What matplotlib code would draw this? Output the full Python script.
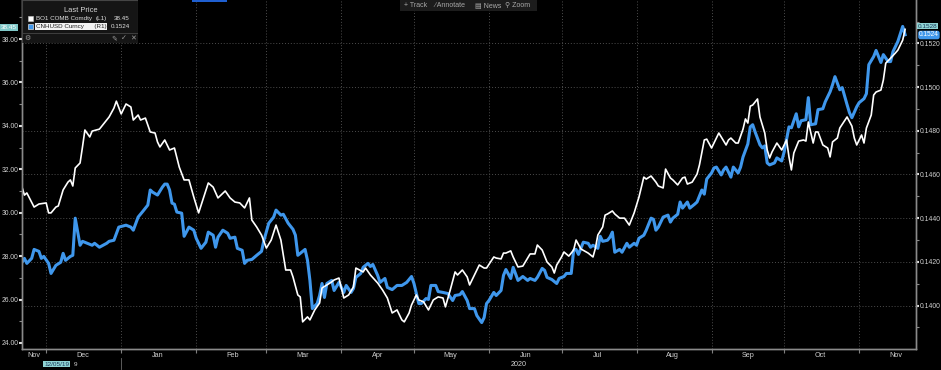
import numpy as np
import pandas as pd
import matplotlib
matplotlib.use('Agg')
import matplotlib.pyplot as plt
import matplotlib.dates as mdates
import matplotlib.transforms as mtrans
from matplotlib.ticker import MultipleLocator, FormatStrFormatter, FixedLocator, FixedFormatter, NullFormatter
from matplotlib.patches import Rectangle

plt.rcParams['font.family'] = ['Liberation Sans', 'DejaVu Sans']

start = pd.Timestamp('2019-11-21')

# BO1 COMB Comdty (left axis), days after 2019-11-21
bo_days = [0, 1, 2, 5, 7, 10, 11, 12, 14, 15,
           17, 19, 20, 21, 22, 24, 25, 26, 28, 29,
           32, 34, 36, 38, 39, 41, 43, 45, 46, 48,
           49, 51, 53, 55, 56, 57, 59, 61, 63, 65,
           67, 69, 71, 73, 75, 77, 79, 81, 84, 86,
           88, 90, 92, 94, 95, 97, 99, 101, 103, 105,
           107, 109, 111, 112, 114, 115, 116, 118, 119, 121,
           123, 124, 126, 128, 129, 131, 133, 135, 137, 138,
           141, 142, 144, 147, 149, 151, 153, 155, 157, 158,
           160, 161, 163, 164, 166, 168, 170, 172, 174, 175,
           177, 179, 180, 182, 184, 185, 187, 189, 191, 192,
           195, 196, 198, 199, 200, 202, 203, 205, 207, 209,
           210, 212, 213, 215, 217, 219, 220, 221, 223, 224,
           226, 228, 229, 231, 234, 236, 237, 238, 240, 241,
           242, 244, 245, 247, 249, 251, 253, 255, 257, 258,
           260, 262, 263, 265, 266, 268, 269, 271, 273, 274,
           275, 277, 279, 280, 282, 283, 285, 286, 288, 289,
           291, 292, 293, 295, 296, 298, 299, 300, 301, 302,
           304, 305, 307, 308, 309, 310, 312, 314, 316, 317,
           318, 319, 321, 323, 324, 325, 327, 328, 329, 331,
           333, 334, 335, 337, 338, 341, 343, 344, 345, 347,
           348, 349, 351, 352, 353, 355, 356, 357, 359, 361,
           362, 364, 365]
bo_vals = [31.18, 30.81, 30.91, 30.26, 30.40, 30.45, 29.99, 29.99, 30.26, 30.31,
           31.05, 31.41, 31.51, 31.23, 32.06, 32.29, 33.03, 33.81, 33.49, 33.76,
           33.85, 34.13, 34.41, 34.82, 35.14, 34.55, 35.01, 34.87, 34.27, 34.50,
           34.27, 34.36, 33.72, 33.67, 33.26, 33.03, 33.35, 32.89, 32.98, 32.10,
           31.51, 31.51, 30.72, 29.99, 30.68, 31.37, 31.18, 30.68, 31.00, 30.68,
           30.49, 30.45, 30.22, 30.68, 29.66, 29.34, 28.97, 28.37, 28.74, 29.43,
           28.74, 27.36, 27.36, 27.04, 26.21, 26.12, 24.97, 25.20, 25.06, 25.52,
           25.84, 26.53, 26.67, 26.81, 26.90, 26.99, 26.07, 26.21, 26.58, 27.45,
           27.27, 27.45, 27.13, 26.76, 26.44, 26.07, 25.38, 25.52, 25.06, 24.97,
           25.38, 25.75, 26.21, 25.98, 25.89, 25.52, 25.98, 26.12, 26.07, 25.66,
           26.44, 27.27, 27.13, 27.36, 27.04, 26.67, 27.13, 27.59, 27.45, 27.45,
           27.96, 27.91, 27.87, 28.14, 28.14, 28.24, 27.96, 27.50, 27.54, 27.91,
           28.10, 28.10, 28.51, 28.28, 27.73, 27.50, 27.22, 27.59, 27.96, 28.19,
           28.00, 28.28, 28.74, 28.33, 28.14, 27.96, 28.37, 28.97, 29.34, 29.89,
           29.94, 30.08, 29.94, 29.75, 29.75, 29.43, 29.99, 30.72, 31.64, 31.55,
           31.69, 31.41, 31.23, 31.14, 32.01, 31.60, 31.51, 31.28, 31.60, 31.64,
           31.32, 31.41, 31.78, 32.20, 33.35, 33.39, 32.98, 33.21, 33.67, 33.49,
           33.12, 33.35, 33.44, 33.21, 33.21, 33.85, 34.32, 34.13, 34.91, 34.96,
           35.24, 34.41, 33.67, 32.89, 32.52, 32.80, 33.21, 32.89, 33.35, 32.57,
           31.97, 32.75, 33.30, 33.35, 33.30, 34.18, 33.21, 33.72, 33.72, 33.12,
           32.98, 32.57, 33.26, 33.44, 33.90, 34.41, 33.99, 33.44, 33.12, 33.58,
           33.21, 33.90, 34.50, 35.42, 35.56, 35.65, 36.11, 36.89, 37.12, 37.36,
           37.49, 37.95, 38.45]

# CNHUSD Curncy (right axis)
cnh_days = [0, 1, 2, 4, 5, 7, 8, 9, 11, 12,
            14, 16, 17, 18, 20, 21, 22, 24, 25, 27,
            29, 30, 32, 35, 36, 38, 40, 43, 45, 46,
            48, 50, 52, 53, 54, 56, 58, 59, 60, 61,
            62, 63, 64, 66, 67, 69, 71, 72, 74, 76,
            77, 79, 80, 81, 83, 85, 86, 88, 89, 91,
            92, 93, 95, 97, 99, 100, 102, 104, 105, 107,
            108, 110, 112, 113, 114, 115, 117, 118, 119, 120,
            122, 123, 124, 125, 126, 128, 129, 131, 133, 134,
            136, 137, 138, 140, 141, 143, 144, 145, 147, 148,
            150, 151, 153, 155, 157, 159, 161, 162, 164, 165,
            167, 168, 169, 171, 172, 174, 176, 178, 179, 181,
            182, 184, 185, 187, 188, 190, 191, 192, 193, 195,
            196, 198, 199, 200, 202, 203, 205, 206, 207, 209,
            210, 212, 213, 215, 216, 217, 219, 221, 222, 224,
            225, 227, 228, 229, 230, 232, 234, 235, 236, 238,
            239, 240, 242, 243, 244, 245, 247, 248, 250, 251,
            253, 254, 255, 257, 258, 260, 261, 262, 263, 265,
            267, 268, 269, 271, 272, 273, 275, 276, 278, 279,
            281, 282, 283, 285, 286, 287, 289, 290, 291, 293,
            294, 296, 297, 298, 300, 301, 302, 303, 305, 306,
            307, 308, 309, 311, 312, 314, 315, 317, 318, 320,
            321, 322, 324, 325, 326, 328, 329, 331, 332, 334,
            335, 336, 338, 339, 341, 342, 343, 345, 346, 348,
            349, 350, 352, 353, 355, 356, 358, 359, 360, 362,
            364, 365]
cnh_vals = [0.14198, 0.14216, 0.14193, 0.14216, 0.14257, 0.14248, 0.14216, 0.14225, 0.14193, 0.14147,
            0.14184, 0.14198, 0.14239, 0.14207, 0.14225, 0.14230, 0.14400, 0.14276, 0.14294, 0.14285,
            0.14276, 0.14285, 0.14267, 0.14285, 0.14294, 0.14299, 0.14359, 0.14368, 0.14359, 0.14345,
            0.14405, 0.14432, 0.14460, 0.14529, 0.14519, 0.14506, 0.14542, 0.14556, 0.14556, 0.14529,
            0.14469, 0.14464, 0.14428, 0.14423, 0.14317, 0.14359, 0.14345, 0.14308, 0.14262, 0.14290,
            0.14336, 0.14322, 0.14267, 0.14313, 0.14345, 0.14331, 0.14308, 0.14313, 0.14262, 0.14253,
            0.14193, 0.14207, 0.14211, 0.14230, 0.14248, 0.14299, 0.14377, 0.14405, 0.14437, 0.14414,
            0.14418, 0.14377, 0.14349, 0.14322, 0.14230, 0.14239, 0.14257, 0.14207, 0.14115, 0.13986,
            0.14009, 0.14046, 0.14101, 0.14037, 0.14101, 0.14115, 0.14069, 0.14106, 0.14060, 0.14092,
            0.14060, 0.14078, 0.14129, 0.14147, 0.14175, 0.14193, 0.14179, 0.14188, 0.14138, 0.14106,
            0.14124, 0.14083, 0.14073, 0.14092, 0.14092, 0.14106, 0.14133, 0.14101, 0.14009, 0.14009,
            0.14032, 0.14028, 0.14092, 0.14092, 0.14064, 0.14060, 0.14055, 0.14023, 0.14046, 0.14050,
            0.14064, 0.14023, 0.13986, 0.13986, 0.13954, 0.13922, 0.13945, 0.14009, 0.14023, 0.14060,
            0.14046, 0.14069, 0.14138, 0.14165, 0.14124, 0.14175, 0.14115, 0.14124, 0.14133, 0.14115,
            0.14124, 0.14115, 0.14129, 0.14170, 0.14161, 0.14129, 0.14119, 0.14101, 0.14124, 0.14133,
            0.14147, 0.14147, 0.14253, 0.14257, 0.14234, 0.14290, 0.14285, 0.14267, 0.14276, 0.14262,
            0.14317, 0.14294, 0.14299, 0.14313, 0.14336, 0.14244, 0.14257, 0.14244, 0.14285, 0.14267,
            0.14285, 0.14276, 0.14308, 0.14322, 0.14345, 0.14400, 0.14395, 0.14345, 0.14359, 0.14405,
            0.14414, 0.14382, 0.14400, 0.14418, 0.14474, 0.14446, 0.14474, 0.14446, 0.14464, 0.14474,
            0.14529, 0.14510, 0.14579, 0.14607, 0.14630, 0.14634, 0.14598, 0.14621, 0.14634, 0.14588,
            0.14634, 0.14607, 0.14634, 0.14680, 0.14740, 0.14818, 0.14828, 0.14795, 0.14736, 0.14722,
            0.14731, 0.14653, 0.14644, 0.14653, 0.14676, 0.14662, 0.14703, 0.14818, 0.14814, 0.14878,
            0.14818, 0.14846, 0.14851, 0.14952, 0.14828, 0.14832, 0.14897, 0.14901, 0.14933, 0.14979,
            0.15011, 0.15048, 0.14988, 0.14998, 0.14920, 0.14883, 0.14860, 0.14910, 0.14929, 0.14947,
            0.14970, 0.15103, 0.15140, 0.15168, 0.15113, 0.15149, 0.15117, 0.15117, 0.15163, 0.15209,
            0.15278, 0.15240]

bo_dates = start + pd.to_timedelta(bo_days, unit='D')
cnh_dates = start + pd.to_timedelta(cnh_days, unit='D')
x_end = start + pd.Timedelta(days=369.5)

W, H = 941, 370
fig = plt.figure(figsize=(W / 100, H / 100), dpi=100, facecolor='black')
ax = fig.add_axes([22 / W, 1 - 349 / H, 894 / W, 349 / H])
ax.set_facecolor('black')
ax2 = ax.twinx()
ax.yaxis.tick_right()
ax2.yaxis.tick_left()

ax.plot(cnh_dates, cnh_vals, color='#3f97ec', lw=2.2, solid_joinstyle='round')
ax2.plot(bo_dates, bo_vals, color='white', lw=1.2, solid_joinstyle='round')

ax.set_xlim(start, x_end)
ax.set_ylim(0.13801, 0.15399)
ax2.set_ylim(23.72, 39.80)

# month ticks and labels
months = pd.date_range('2019-11-01', '2020-11-01', freq='MS')
lab_pos, lab_txt = [], []
for m in months:
    nxt = m + pd.offsets.MonthBegin(1)
    mid = m + pd.Timedelta(days=15)
    if mid < start:
        mid = start + (nxt - start) / 2
    lab_pos.append(mdates.date2num(mid))
    lab_txt.append(m.strftime('%b'))
ax.xaxis.set_major_locator(mdates.MonthLocator())
ax.xaxis.set_major_formatter(NullFormatter())
ax.xaxis.set_minor_locator(FixedLocator(lab_pos))
ax.xaxis.set_minor_formatter(FixedFormatter(lab_txt))
ax.tick_params(axis='x', which='major', length=3, color='#808080', direction='out')
ax.tick_params(axis='x', which='minor', length=0, pad=2, labelsize=5.2, labelcolor='#d0d0d0')

ax.yaxis.set_major_locator(MultipleLocator(0.002))
ax.yaxis.set_minor_locator(MultipleLocator(0.001))
ax.yaxis.set_major_formatter(FormatStrFormatter('%.4f'))
ax2.yaxis.set_major_locator(MultipleLocator(2))
ax2.yaxis.set_minor_locator(MultipleLocator(1))
ax2.yaxis.set_major_formatter(FormatStrFormatter('%.2f'))
for a in (ax, ax2):
    a.tick_params(axis='y', which='major', length=2, width=1.5, color='#e0e0e0',
                  labelsize=4.9, labelcolor='#d0d0d0', pad=0.6)
    a.tick_params(axis='y', which='minor', length=2, width=0.8, color='#8a8a8a')
    for s in a.spines.values():
        s.set_color('#8a8a8a')
        s.set_linewidth(1.0)
    a.spines['top'].set_visible(False)

ax.grid(which='major', axis='both', color='#4d4d4d', linestyle=(0, (1, 2)), linewidth=0.7)

# year row
tr = mtrans.blended_transform_factory(ax.transData, fig.transFigure)
y2020 = pd.Timestamp('2020-01-01')
ax.text(mdates.date2num(y2020 + (x_end - y2020) / 2), 1 - 364 / H, '2020', transform=tr,
        ha='center', va='center', fontsize=5.2, color='#d0d0d0')
ax.plot([mdates.date2num(y2020)] * 2, [1 - 358 / H, 1 - 369 / H], transform=tr,
        color='#6a6a6a', lw=0.6, clip_on=False)
fig.text(44 / W, 1 - 364 / H, '12/05/19', fontsize=4.6, color='#1d3b5c', va='center',
         bbox=dict(boxstyle='square,pad=0.1', fc='#8fd3d3', ec='none'))
fig.text(73.5 / W, 1 - 364 / H, '9', fontsize=4.6, color='#d0d0d0', va='center')

# last value tags
fig.text(1 / W, 1 - 27.5 / H, '38.45', fontsize=4.6, color='white', va='center',
         bbox=dict(boxstyle='square,pad=0.1', fc='#7fc8c8', ec='none'))
fig.text(918 / W, 1 - 26 / H, '0.1528', fontsize=4.6, color='#1d3b5c', va='center',
         bbox=dict(boxstyle='square,pad=0.08', fc='#8fd3d3', ec='none'))
fig.text(919 / W, 1 - 35 / H, '0.1524', fontsize=4.7, color='white', va='center',
         bbox=dict(boxstyle='round,pad=0.12,rounding_size=0.35', fc='#3f97ec', ec='none'))

# legend panel
lax = fig.add_axes([22 / W, 1 - 43 / H, 116 / W, 43 / H])
lax.set_xlim(0, 116)
lax.set_ylim(43, 0)
lax.axis('off')
lax.add_patch(Rectangle((0, 0), 116, 43, fc='#151515', ec='#454545', lw=0.8))
lax.plot([0, 116], [33, 33], color='#454545', lw=0.6)
lax.text(59, 10.5, 'Last Price', ha='center', va='center', fontsize=5.4, color='#d8d8d8')
lax.add_patch(Rectangle((6, 16), 5, 5, fc='white', ec='#cccccc', lw=0.4))
lax.text(14, 18.5, 'BO1 COMB Comdty', va='center', fontsize=4.5, color='#e0e0e0')
lax.text(74, 18.5, '(L1)', va='center', fontsize=4.5, color='#e0e0e0')
lax.text(108, 18.5, '38.45', ha='right', va='center', fontsize=4.5, color='#e0e0e0')
lax.add_patch(Rectangle((6, 24), 5, 5, fc='#3f97ec', ec='white', lw=0.4))
lax.text(14, 26.5, 'CNHUSD Curncy      (R1)', va='center', fontsize=4.5, color='#202020',
         bbox=dict(boxstyle='square,pad=0.1', fc='#f2f2f2', ec='none'))
lax.text(108, 26.5, '0.1524', ha='right', va='center', fontsize=4.5, color='#e0e0e0')
lax.text(5, 38.5, '\u2699', ha='center', va='center', fontsize=5, color='#9a9a9a')
for xi, g in zip([92, 102, 111], ['\u270e', '\u2713', '\u2715']):
    lax.text(xi, 38.5, g, ha='center', va='center', fontsize=5, color='#9a9a9a')

# toolbar
tax = fig.add_axes([400 / W, 1 - 11 / H, 137 / W, 11 / H])
tax.set_xlim(400, 537)
tax.set_ylim(11, 0)
tax.axis('off')
tax.add_patch(Rectangle((400, 0), 137, 11, fc='#1c1c1c', ec='none'))
for xi, lab in zip([404, 434, 475, 505], ['+ Track', '\u2215 Annotate', '\u25a4 News', '\u26b2 Zoom']):
    tax.text(xi, 5.5, lab, va='center', fontsize=5, color='#a8a8a8')

fig.add_artist(Rectangle((192 / W, 1 - 1.5 / H), 35 / W, 1.5 / H, transform=fig.transFigure,
                         fc='#1f5fd0', ec='none'))

fig.savefig('out.png', dpi=100, facecolor='black')
